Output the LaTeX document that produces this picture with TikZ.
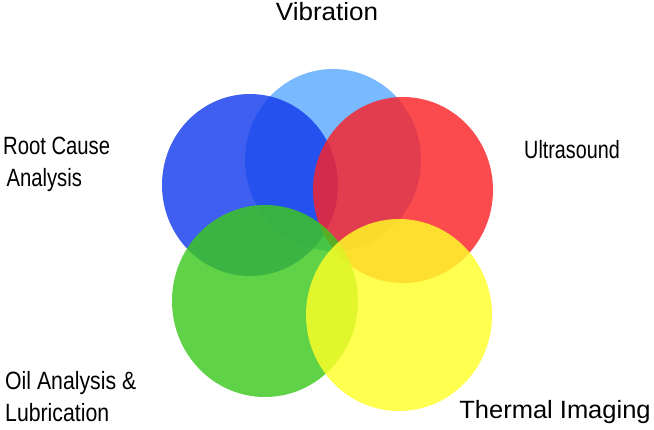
\documentclass[tikz,border=0pt]{standalone}
\usepackage{fontspec}
\usetikzlibrary{shapes.geometric}
\setmainfont{Liberation Sans}
\begin{document}
\begin{tikzpicture}[x=1pt,y=-1pt,
  disc/.style={ellipse,minimum width=#1,minimum height=#1+6pt,inner sep=0pt,opacity=0.82},
  lbl/.style={font=\fontsize{25}{32}\selectfont,align=left,inner sep=0pt}]
\useasboundingbox (0,0) rectangle (654,429);
\definecolor{cvib}{RGB}{90,170,255}
\definecolor{crc}{RGB}{20,60,235}
\definecolor{cus}{RGB}{250,35,40}
\definecolor{coil}{RGB}{60,200,30}
\definecolor{cth}{RGB}{255,255,40}
\node[disc=176pt,fill=cvib] (vib) at (333,160) {};
\node[disc=176pt,fill=crc] (rc) at (250,185) {};
\node[disc=180pt,fill=cus] (us) at (403,190) {};
\node[disc=186pt,fill=coil] (oil) at (265,301) {};
\node[disc=186pt,fill=cth] (th) at (399,315) {};
\node[lbl] (tvib) at (327,12) {\scalebox{1.04}[1]{Vibration}};
\node[lbl,anchor=west] (trc) at (3,164) {\scalebox{0.81}[1]{Root Cause}\\\scalebox{0.81}[1]{\,Analysis}};
\node[lbl] (tus) at (572,150) {\scalebox{0.79}[1]{Ultrasound}};
\node[lbl,anchor=west] (toil) at (5,397) {\scalebox{0.85}[1]{Oil Analysis \&}\\\scalebox{0.85}[1]{Lubrication}};
\node[lbl] (tth) at (555,412) {\scalebox{1.02}[1]{Thermal Imaging}};
\end{tikzpicture}
\end{document}
